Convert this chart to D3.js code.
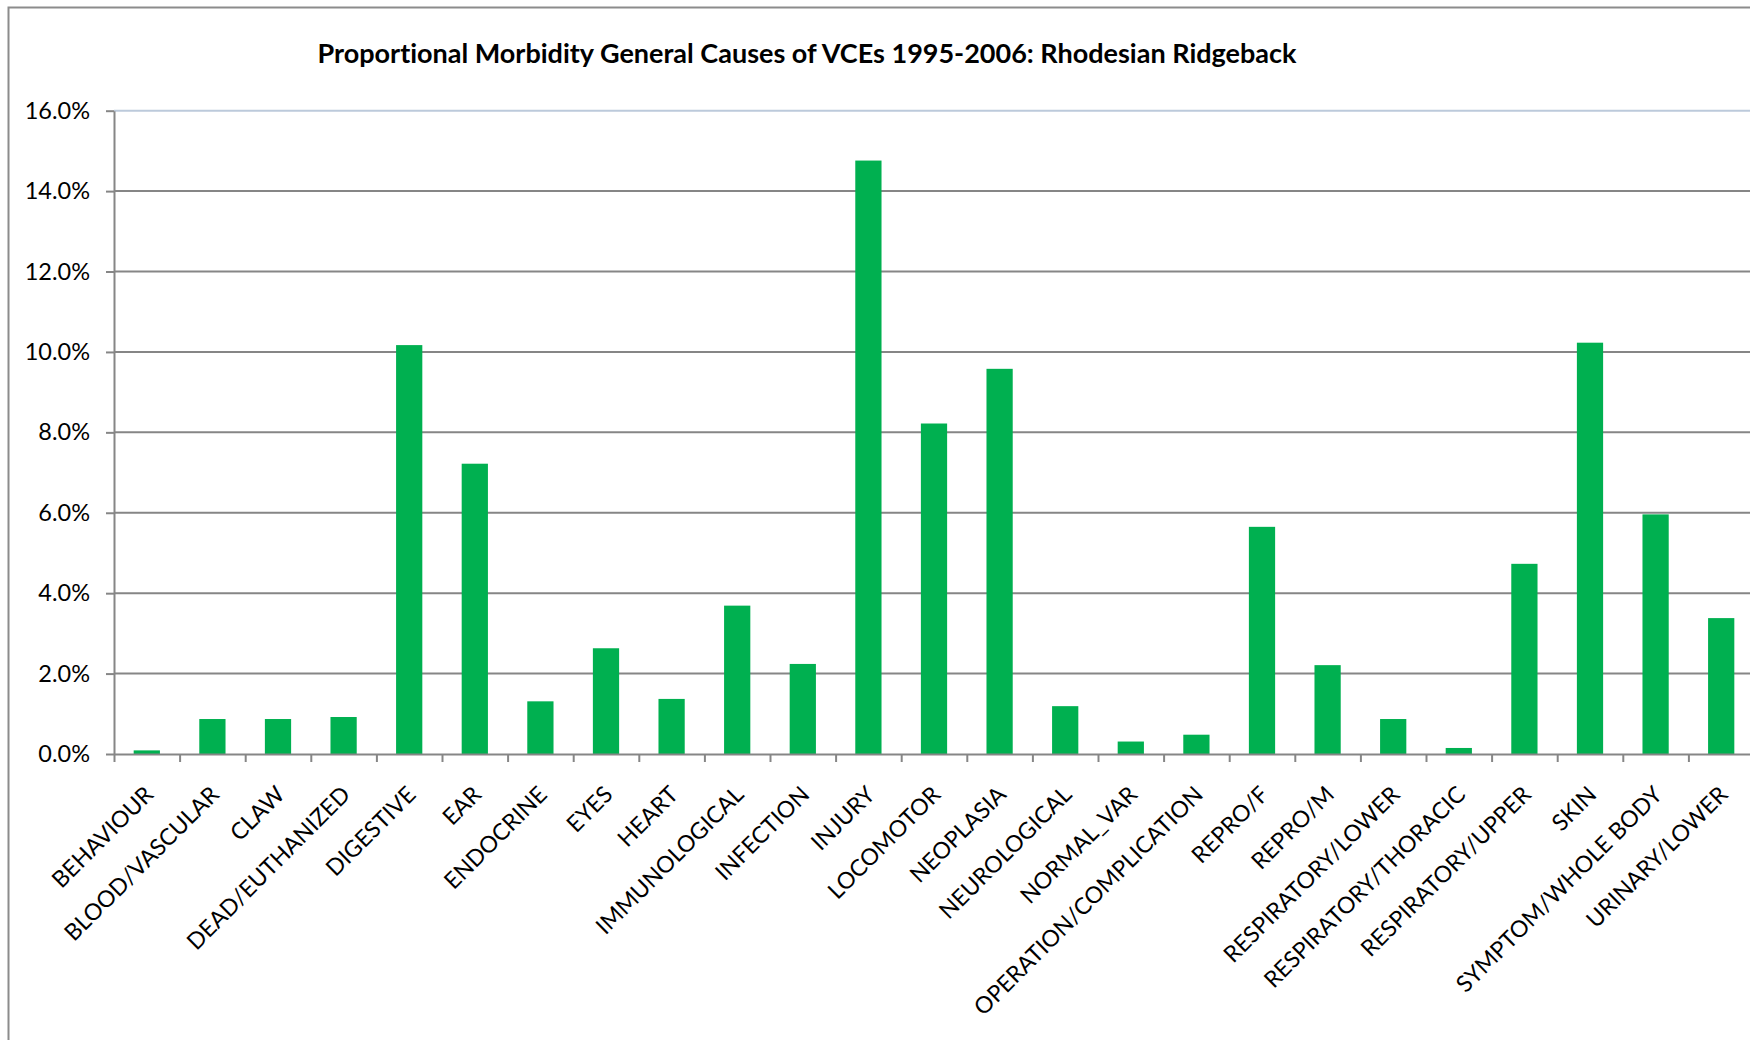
<!DOCTYPE html>
<html>
<head>
<meta charset="utf-8">
<script src="https://cdn.jsdelivr.net/npm/d3@7"></script>
<style>
  body { margin: 0; background: #fff; }
  text { font-family: Lato, "Noto Sans", sans-serif; fill: #000; font-variant-ligatures: none; }
</style>
</head>
<body>
<script>
// categories and values (percent of VCEs)
let categories = ["BEHAVIOUR", "BLOOD/VASCULAR", "CLAW", "DEAD/EUTHANIZED", "DIGESTIVE", "EAR",
  "ENDOCRINE", "EYES", "HEART", "IMMUNOLOGICAL", "INFECTION", "INJURY", "LOCOMOTOR", "NEOPLASIA",
  "NEUROLOGICAL", "NORMAL_VAR", "OPERATION/COMPLICATION", "REPRO/F", "REPRO/M", "RESPIRATORY/LOWER",
  "RESPIRATORY/THORACIC", "RESPIRATORY/UPPER", "SKIN", "SYMPTOM/WHOLE BODY", "URINARY/LOWER"];
let values = [0.09, 0.87, 0.87, 0.92, 10.17, 7.22, 1.31, 2.63, 1.37, 3.69, 2.24, 14.76, 8.22, 9.58,
  1.19, 0.31, 0.48, 5.65, 2.21, 0.87, 0.15, 4.73, 10.23, 5.96, 3.38];
let yTicks = [0, 2, 4, 6, 8, 10, 12, 14, 16];
let title = "Proportional Morbidity General Causes of VCEs 1995-2006: Rhodesian Ridgeback";

let width = 1750, height = 1040;
let plot = {left: 114, right: 1754, top: 110.7, bottom: 754};

let svg = d3.select("body").append("svg")
  .attr("width", width)
  .attr("height", height);

// outer chart frame (runs off the right and bottom edge)
svg.append("rect")
  .attr("x", 8.5).attr("y", 7.5)
  .attr("width", 1900).attr("height", 1200)
  .attr("fill", "none")
  .attr("stroke", "#8c8c8c")
  .attr("stroke-width", 2);

let xScale = d3.scaleBand()
  .domain(categories)
  .range([plot.left, plot.right])
  .paddingInner(0.6)
  .paddingOuter(0.3);

let xEdge = d3.scaleLinear()
  .domain([0, categories.length])
  .range([plot.left, plot.right]);

let yScale = d3.scaleLinear()
  .domain([0, 16])
  .range([plot.bottom, plot.top]);

// title
svg.append("text")
  .attr("x", 807)
  .attr("y", 63)
  .attr("text-anchor", "middle")
  .style("font-weight", "bold")
  .style("font-size", "27px")
  .text(title);

// gridlines
svg.append("g")
  .selectAll("line")
  .data(yTicks.filter(d => d > 0))
  .enter().append("line")
    .attr("x1", plot.left).attr("x2", plot.right)
    .attr("y1", d => yScale(d)).attr("y2", d => yScale(d))
    .attr("stroke", d => d === 16 ? "#bccadb" : "#868686")
    .attr("stroke-width", 2);

// bars
svg.append("g")
  .selectAll("rect")
  .data(values)
  .enter().append("rect")
    .attr("x", (d, i) => xScale(categories[i]))
    .attr("width", xScale.bandwidth())
    .attr("y", d => yScale(d))
    .attr("height", d => yScale(0) - yScale(d))
    .attr("fill", "#00b050");

// y axis
let yAxis = svg.append("g")
  .attr("transform", "translate(" + plot.left + ",0)")
  .call(d3.axisLeft(yScale)
    .tickValues(yTicks)
    .tickSize(8)
    .tickSizeOuter(0)
    .tickPadding(16)
    .tickFormat(d => d.toFixed(1) + "%"));
yAxis.selectAll("line, path").attr("stroke", "#868686").attr("stroke-width", 2);
yAxis.selectAll("text").style("font-size", "23.5px").style("font-family", "Lato, sans-serif").attr("fill", "#000");

// x axis, ticks on category boundaries
let xAxis = svg.append("g")
  .attr("transform", "translate(0," + plot.bottom + ")")
  .call(d3.axisBottom(xEdge)
    .tickValues(d3.range(0, categories.length + 1))
    .tickSize(8)
    .tickSizeOuter(0)
    .tickFormat(""));
xAxis.selectAll("line, path").attr("stroke", "#868686").attr("stroke-width", 2);

// rotated category labels
svg.append("g")
  .selectAll("text")
  .data(categories)
  .enter().append("text")
    .attr("transform", d => "translate(" + (xScale(d) + xScale.bandwidth() / 2 + 8) + ",796) rotate(-45)")
    .attr("text-anchor", "end")
    .style("font-size", "23px")
    .text(d => d);
</script>
</body>
</html>
